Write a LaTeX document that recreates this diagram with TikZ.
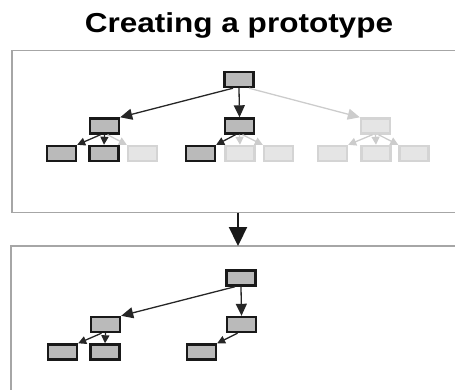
\documentclass[tikz,border=0pt]{standalone}
\usepackage{fontspec}
\setmainfont{Liberation Sans}
\usetikzlibrary{arrows.meta}
\begin{document}
\begin{tikzpicture}[x=1pt,y=-1pt,
  box/.style={draw=black!90,line width=2.4pt,fill=black!27,minimum width=29pt,minimum height=15pt,inner sep=0pt},
  ghost/.style={draw=black!17,line width=2.4pt,fill=black!10,minimum width=29pt,minimum height=15pt,inner sep=0pt},
  edge/.style={draw=black!85,line width=1.3pt,-{Triangle[length=12pt,width=11pt]}},
  shortedge/.style={draw=black!85,line width=1.3pt,-{Triangle[length=8pt,width=8pt]}},
  ghostedge/.style={draw=black!20,line width=1.3pt,-{Triangle[length=12pt,width=11pt]}},
  ghostshort/.style={draw=black!20,line width=1.3pt,-{Triangle[length=8pt,width=8pt]}},
  frame/.style={draw=black!35,line width=1.4pt},
  bigarrow/.style={draw=black!90,line width=2.2pt,-{Triangle[length=19pt,width=18pt]}}]
\useasboundingbox (0,0) rectangle (455,389);

% title
\node[anchor=base,font=\bfseries\fontsize{27.4}{30}\selectfont,xscale=1.15] (title) at (239,32) {Creating a prototype};

% frames (open to the right and bottom)
\draw[frame] (480,50.5) -- (12,50.5) -- (12,212.5) -- (480,212.5);
\draw[frame] (480,246) -- (11,246) -- (11,400);
\coordinate (ftop) at (238,212.5);
\coordinate (fbot) at (238,246);
\draw[bigarrow] (ftop) -- (fbot);

% ---- upper tree: full candidate structure ----
\node[box] (r) at (239,79.5) {};
\node[box] (a) at (104.5,126) {};
\node[box] (b) at (239.5,126) {};
\node[ghost] (c) at (375.5,126) {};
\node[box] (a1) at (61.5,153.5) {};
\node[box] (a2) at (104,153.5) {};
\node[ghost] (a3) at (142.5,153.5) {};
\node[box] (b1) at (200.5,153.5) {};
\node[ghost] (b2) at (240,153.5) {};
\node[ghost] (b3) at (278.5,153.5) {};
\node[ghost] (c1) at (332.5,153.5) {};
\node[ghost] (c2) at (376,153.5) {};
\node[ghost] (c3) at (414,153.5) {};

\draw[ghostedge] ([xshift=10pt]r.south) -- (c.north west);
\draw[ghostshort] ([xshift=3pt]a.south) -- (a3.north west);
\draw[ghostshort] (b.south) -- (b2.north);
\draw[ghostshort] ([xshift=3pt]b.south) -- (b3.north west);
\draw[ghostshort] ([xshift=-3pt]c.south) -- (c1.north east);
\draw[ghostshort] (c.south) -- (c2.north);
\draw[ghostshort] ([xshift=3pt]c.south) -- (c3.north west);

\draw[edge] ([xshift=-6pt]r.south) -- (a.north east);
\draw[edge] (r.south) -- (b.north);
\draw[shortedge] ([xshift=-4pt]a.south) -- (a1.north east);
\draw[shortedge] (a.south) -- (a2.north);
\draw[shortedge] ([xshift=-4pt]b.south) -- (b1.north east);

% ---- lower tree: the chosen prototype ----
\node[box] (pr) at (241,278) {};
\node[box] (pa) at (105.5,324.5) {};
\node[box] (pb) at (241.5,324.5) {};
\node[box] (pa1) at (62.5,352) {};
\node[box] (pa2) at (105,352) {};
\node[box] (pb1) at (201.5,352) {};

\draw[edge] ([xshift=-6pt]pr.south) -- (pa.north east);
\draw[edge] (pr.south) -- (pb.north);
\draw[shortedge] ([xshift=-4pt]pa.south) -- (pa1.north east);
\draw[shortedge] (pa.south) -- (pa2.north);
\draw[shortedge] ([xshift=-4pt]pb.south) -- (pb1.north east);
\end{tikzpicture}
\end{document}
